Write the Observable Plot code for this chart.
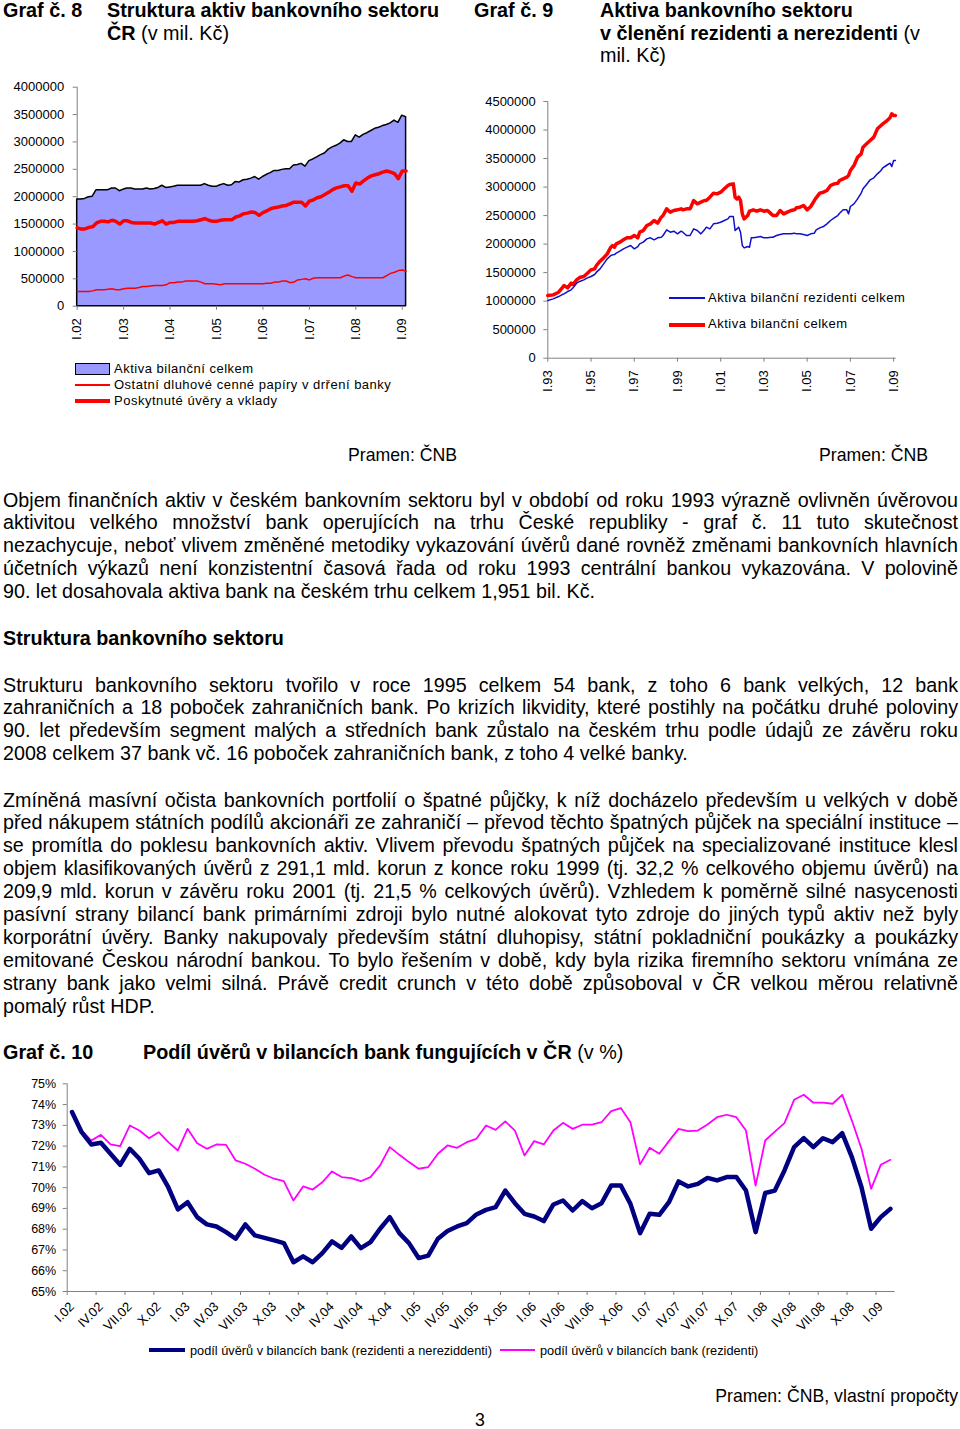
<!DOCTYPE html>
<html><head><meta charset="utf-8">
<script src="https://cdn.jsdelivr.net/npm/d3@7"></script>
<script src="https://cdn.jsdelivr.net/npm/@observablehq/plot@0.6"></script>
<style>
body{margin:0;background:#fff;}
#page{position:relative;width:960px;height:1429px;font-family:Arial,"Liberation Sans",sans-serif;color:#000;overflow:hidden;background:#fff}
.a{position:absolute;white-space:nowrap}
.b{font-weight:bold}
.h{font-size:19.8px;line-height:22.5px}
.p{position:absolute;left:3px;width:955px;font-size:19.7px;line-height:22.9px;margin:0}
.p .jl{text-align:justify;text-align-last:justify}
.p .ll{text-align:left}
.src{font-size:17.7px;line-height:20px}
.lg{font-size:13px;line-height:16px;letter-spacing:0.5px}
.lg10{font-size:12.75px;line-height:16px}
.sw{position:absolute}
.chart{position:absolute}
</style></head><body><div id="page">

<div class="a h b" style="left:3px;top:-1px">Graf č. 8</div>
<div class="a h" style="left:107px;top:-1px"><b>Struktura aktiv bankovního sektoru</b><br><b>ČR</b> (v mil. Kč)</div>
<div class="a h b" style="left:474px;top:-1px">Graf č. 9</div>
<div class="a h" style="left:600px;top:-1px"><b>Aktiva bankovního sektoru</b><br><b>v členění rezidenti a nerezidenti</b> (v<br>mil. Kč)</div>

<div id="c8" class="chart" style="left:0;top:75px"></div>
<div id="c9" class="chart" style="left:470px;top:85px"></div>

<div class="sw" style="left:75px;top:363px;width:33px;height:10px;background:#9999ff;border:1px solid #000"></div>
<div class="a lg" style="left:114px;top:361px">Aktiva bilanční celkem</div>
<div class="sw" style="left:75px;top:384px;width:35px;height:1.5px;background:#ff0000"></div>
<div class="a lg" style="left:114px;top:377px">Ostatní dluhové cenné papíry v drření banky</div>
<div class="sw" style="left:75px;top:399px;width:35px;height:4px;background:#ff0000"></div>
<div class="a lg" style="left:114px;top:393px">Poskytnuté úvěry a vklady</div>

<div class="sw" style="left:669px;top:297px;width:36px;height:1.5px;background:#1010cc"></div>
<div class="a lg" style="left:708px;top:289.5px">Aktiva bilanční rezidenti celkem</div>
<div class="sw" style="left:669px;top:322.5px;width:36px;height:4px;background:#ff0000"></div>
<div class="a lg" style="left:708px;top:316px">Aktiva bilanční celkem</div>

<div class="a src" style="left:348px;top:445px">Pramen: ČNB</div>
<div class="a src" style="left:819px;top:445px">Pramen: ČNB</div>

<div class="p" style="top:488.5px">
<div class="jl">Objem finančních aktiv v&nbsp;českém bankovním sektoru byl v&nbsp;období od roku 1993 výrazně ovlivněn úvěrovou</div>
<div class="jl">aktivitou velkého množství bank operujících na trhu České republiky - graf č. 11 tuto skutečnost</div>
<div class="jl">nezachycuje, neboť vlivem změněné metodiky vykazování úvěrů dané rovněž změnami bankovních hlavních</div>
<div class="jl">účetních výkazů není konzistentní časová řada od roku 1993 centrální bankou vykazována. V&nbsp;polovině</div>
<div class="ll">90. let dosahovala aktiva bank na českém trhu celkem 1,951 bil. Kč.</div>
</div>

<div class="a b" style="left:3px;top:627px;font-size:19.75px;line-height:22.9px">Struktura bankovního sektoru</div>

<div class="p" style="top:673.5px">
<div class="jl">Strukturu bankovního sektoru tvořilo v&nbsp;roce 1995 celkem 54 bank, z&nbsp;toho 6 bank velkých, 12 bank</div>
<div class="jl">zahraničních a 18 poboček zahraničních bank. Po krizích likvidity, které postihly na počátku druhé poloviny</div>
<div class="jl">90. let především segment malých a středních bank zůstalo na českém trhu podle údajů ze závěru roku</div>
<div class="ll">2008 celkem 37 bank vč. 16 poboček zahraničních bank, z toho 4 velké banky.</div>
</div>

<div class="p" style="top:788.5px">
<div class="jl">Zmíněná masívní očista bankovních portfolií o špatné půjčky, k&nbsp;níž docházelo především u velkých v&nbsp;době</div>
<div class="jl">před nákupem státních podílů akcionáři ze zahraničí – převod těchto špatných půjček na speciální instituce –</div>
<div class="jl">se promítla do poklesu bankovních aktiv. Vlivem převodu špatných půjček na specializované instituce klesl</div>
<div class="jl">objem klasifikovaných úvěrů z&nbsp;291,1 mld. korun z&nbsp;konce roku 1999 (tj. 32,2 % celkového objemu úvěrů) na</div>
<div class="jl">209,9 mld. korun v&nbsp;závěru roku 2001 (tj. 21,5 % celkových úvěrů). Vzhledem k&nbsp;poměrně silné nasycenosti</div>
<div class="jl">pasívní strany bilancí bank primárními zdroji bylo nutné alokovat tyto zdroje do jiných typů aktiv než byly</div>
<div class="jl">korporátní úvěry. Banky nakupovaly především státní dluhopisy, státní pokladniční poukázky a poukázky</div>
<div class="jl">emitované Českou národní bankou. To bylo řešením v&nbsp;době, kdy byla rizika firemního sektoru vnímána ze</div>
<div class="jl">strany bank jako velmi silná. Právě credit crunch v&nbsp;této době způsoboval v&nbsp;ČR velkou měrou relativně</div>
<div class="ll">pomalý růst HDP.</div>
</div>

<div class="a h b" style="left:3px;top:1041px">Graf č. 10</div>
<div class="a h" style="left:143px;top:1041px"><b>Podíl úvěrů v bilancích bank fungujících v ČR</b> (v %)</div>

<div id="c10" class="chart" style="left:0;top:1070px"></div>

<div class="sw" style="left:149px;top:1348px;width:36px;height:4px;background:#000080"></div>
<div class="a lg10" style="left:190px;top:1343px">podíl úvěrů v bilancích bank (rezidenti a nereziddenti)</div>
<div class="sw" style="left:500px;top:1349px;width:35px;height:2px;background:#ff00ff"></div>
<div class="a lg10" style="left:540px;top:1343px">podíl úvěrů v bilancích bank (rezidenti)</div>

<div class="a src" style="right:2px;top:1386px">Pramen: ČNB, vlastní propočty</div>
<div class="a src" style="left:475px;top:1410px">3</div>

</div>
<script>
// ---------- Graf 8: monthly, I.02 .. II.09 (mil. Kč) ----------
const yearLabels8 = ["I.02","I.03","I.04","I.05","I.06","I.07","I.08","I.09"];
const total8 = [1950000,1950000,1960000,1990000,2000000,2120000,2120000,2120000,2120000,2150000,
2150000,2100000,2130000,2150000,2150000,2130000,2130000,2130000,2150000,2130000,
2140000,2160000,2200000,2160000,2170000,2180000,2200000,2200000,2200000,2200000,
2200000,2200000,2200000,2230000,2200000,2180000,2180000,2210000,2230000,2200000,
2210000,2270000,2260000,2300000,2310000,2330000,2360000,2310000,2360000,2400000,
2430000,2470000,2470000,2490000,2500000,2500000,2570000,2580000,2600000,2550000,
2650000,2680000,2720000,2760000,2790000,2860000,2900000,2930000,2970000,3030000,
3000000,3000000,3120000,3080000,3130000,3160000,3200000,3240000,3260000,3290000,
3310000,3340000,3390000,3350000,3480000,3450000];
const loans8 = [1430000,1410000,1410000,1440000,1450000,1520000,1550000,1550000,1540000,1570000,
1550000,1500000,1560000,1560000,1530000,1520000,1520000,1520000,1520000,1520000,
1500000,1530000,1560000,1500000,1530000,1530000,1550000,1550000,1550000,1550000,
1550000,1560000,1580000,1600000,1570000,1550000,1550000,1570000,1580000,1580000,
1580000,1630000,1650000,1690000,1700000,1720000,1710000,1660000,1710000,1740000,
1780000,1800000,1810000,1830000,1840000,1870000,1900000,1900000,1900000,1830000,
1920000,1940000,1980000,2000000,2040000,2080000,2130000,2160000,2180000,2200000,
2200000,2100000,2250000,2230000,2290000,2340000,2380000,2400000,2420000,2450000,
2470000,2450000,2420000,2330000,2470000,2470000];
const securities8 = [270000,270000,270000,270000,280000,300000,300000,300000,310000,320000,
300000,300000,320000,330000,330000,330000,340000,360000,360000,370000,
380000,380000,380000,390000,430000,430000,440000,440000,460000,460000,
460000,460000,440000,410000,410000,410000,400000,390000,410000,410000,
410000,410000,410000,410000,410000,410000,410000,410000,410000,420000,
420000,440000,440000,460000,460000,430000,440000,480000,490000,500000,
480000,510000,520000,520000,520000,520000,520000,520000,520000,550000,
570000,540000,520000,520000,520000,520000,520000,520000,520000,520000,
560000,600000,620000,650000,660000,640000];

// ---------- Graf 9: months since I.93 (mil. Kč) ----------
const yearLabels9 = ["I.93","I.95","I.97","I.99","I.01","I.03","I.05","I.07","I.09"];
const months9 = [0,3,6,8,9,11,13,14,16,18,20,22,24,26,27,29,31,33,35,36,
37,38,40,42,44,46,48,50,51,53,55,57,59,61,63,64,66,68,70,72,
74,75,77,79,81,83,85,87,88,90,92,94,96,98,100,101,103,104,105,106,
107,108,109,110,111,112,113,114,116,118,120,122,124,125,127,129,131,133,135,137,
138,140,142,144,146,148,149,151,153,155,157,159,161,162,164,166,167,168,170,172,
174,175,177,179,181,183,185,186,188,190,191,192,193];
const total9 = [1099000,1110000,1157000,1233000,1274000,1233000,1315000,1292000,1373000,1420000,
1432000,1490000,1549000,1566000,1625000,1701000,1759000,1829000,1946000,1975000,
1946000,2004000,2034000,2075000,2110000,2110000,2151000,2110000,2209000,2238000,
2326000,2355000,2414000,2367000,2472000,2501000,2618000,2560000,2589000,2601000,
2618000,2601000,2618000,2618000,2764000,2706000,2735000,2764000,2764000,2823000,
2893000,2881000,2910000,2969000,3027000,3045000,3056000,2823000,2793000,2823000,
2764000,2530000,2443000,2472000,2501000,2577000,2589000,2601000,2577000,2601000,
2577000,2589000,2530000,2501000,2501000,2589000,2530000,2560000,2589000,2601000,
2636000,2647000,2677000,2601000,2659000,2764000,2811000,2893000,2910000,2940000,
3027000,3056000,3068000,3115000,3144000,3173000,3203000,3290000,3378000,3524000,
3582000,3699000,3758000,3816000,3875000,4021000,4079000,4108000,4155000,4214000,
4284000,4254000,4254000];
const residents9 = [1011000,1040000,1081000,1116000,1128000,1169000,1198000,1233000,1315000,1350000,
1373000,1408000,1432000,1467000,1508000,1566000,1654000,1742000,1800000,1812000,
1817000,1841000,1876000,1917000,1946000,1975000,1917000,1958000,2004000,2034000,
2092000,2110000,2075000,2110000,2121000,2151000,2250000,2209000,2227000,2180000,
2227000,2209000,2151000,2151000,2267000,2238000,2180000,2250000,2297000,2267000,
2355000,2367000,2384000,2414000,2443000,2484000,2484000,2238000,2267000,2297000,
2209000,1975000,1934000,1946000,1958000,1946000,2110000,2110000,2121000,2133000,
2110000,2110000,2121000,2121000,2151000,2168000,2180000,2180000,2180000,2192000,
2180000,2180000,2168000,2151000,2180000,2192000,2250000,2285000,2308000,2355000,
2414000,2460000,2501000,2542000,2601000,2601000,2530000,2659000,2706000,2793000,
2893000,2969000,3045000,3127000,3162000,3232000,3290000,3337000,3378000,3419000,
3360000,3465000,3465000];

// ---------- Graf 10: monthly I.02 .. II.09 (%) ----------
const quarterLabels10 = ["I.02","IV.02","VII.02","X.02","I.03","IV.03","VII.03","X.03",
"I.04","IV.04","VII.04","X.04","I.05","IV.05","VII.05","X.05","I.06","IV.06","VII.06","X.06",
"I.07","IV.07","VII.07","X.07","I.08","IV.08","VII.08","X.08","I.09"];
const shareAll10 = [73.64,72.67,72.08,72.16,71.63,71.10,71.87,71.39,70.70,70.83,
70.02,68.95,69.30,68.58,68.23,68.13,67.86,67.54,68.23,67.70,
67.58,67.46,67.33,66.41,66.69,66.41,66.85,67.41,67.10,67.65,
67.09,67.38,68.02,68.58,67.81,67.33,66.61,66.73,67.54,67.91,
68.13,68.29,68.71,68.93,69.06,69.86,69.25,68.74,68.61,68.39,
69.19,69.38,68.90,69.35,69.01,69.25,70.10,70.10,69.22,67.81,
68.74,68.69,69.30,70.30,70.06,70.18,70.47,70.35,70.51,70.51,
69.86,67.86,69.74,69.86,70.83,71.95,72.38,71.95,72.38,72.19,
72.62,71.47,70.02,68.02,68.58,68.98];
const shareRes10 = [73.59,72.75,72.27,72.54,72.08,72.00,72.99,72.75,72.38,72.67,
72.19,71.79,72.83,72.14,71.87,72.08,72.06,71.31,71.15,70.91,
70.62,70.43,70.31,69.38,70.06,69.91,70.26,70.78,70.51,70.46,
70.31,70.51,71.07,71.95,71.58,71.23,70.91,70.99,71.63,72.03,
71.92,72.19,72.35,72.99,72.78,73.19,72.75,71.55,72.24,72.08,
72.75,73.12,72.83,73.03,73.03,73.15,73.68,73.83,73.15,71.12,
71.92,71.63,72.24,72.83,72.72,72.75,73.04,73.39,73.51,73.39,
72.75,70.10,72.27,72.70,73.11,74.23,74.47,74.09,74.09,74.04,
74.47,73.23,71.87,69.94,71.10,71.34];

const FONT = 'Arial, "Liberation Sans", sans-serif';
const AX = "#808080";
const baseStyle = (fs) => ({fontFamily: FONT, fontSize: fs, color: "#000", background: "transparent", overflow: "visible"});

// Chart 8
const d8 = d3.range(total8.length).map(i => ({i, T: total8[i], L: loans8[i], S: securities8[i]}));
const c8 = Plot.plot({
  width: 420, height: 280, marginLeft: 76.7, marginRight: 14.4, marginTop: 11.7, marginBottom: 49.3,
  x: {domain: [0, 85]}, y: {domain: [0, 4000000]},
  style: baseStyle("13px"),
  marks: [
    Plot.ruleX([0], {stroke: AX}),
    Plot.areaY(d8, {x: "i", y: "T", fill: "#9999ff", stroke: "#000", strokeWidth: 1.5}),
    Plot.lineY(d8, {x: "i", y: "S", stroke: "#ff0000", strokeWidth: 1.5}),
    Plot.lineY(d8, {x: "i", y: "L", stroke: "#ff0000", strokeWidth: 3.5}),
    Plot.axisY({ticks: d3.range(0, 4000001, 500000), tickFormat: d3.format("d"), tickSize: 4, tickPadding: 9, stroke: AX, fill: "#000", label: null}),
    Plot.axisX({ticks: d3.range(0, 85, 12), tickFormat: i => yearLabels8[i / 12], tickRotate: -90, tickSize: 4, tickPadding: 8, stroke: AX, fill: "#000", label: null})
  ]
});
document.getElementById("c8").appendChild(c8);

// Chart 9
const d9 = months9.map((m, k) => ({t: 1993 + m / 12, R: residents9[k], C: total9[k]}));
const c9 = Plot.plot({
  width: 490, height: 330, marginLeft: 77.3, marginRight: 64.3, marginTop: 16, marginBottom: 57.3,
  x: {domain: [1993, 2009.12]}, y: {domain: [0, 4500000]},
  style: baseStyle("13px"),
  marks: [
    Plot.ruleX([1993], {stroke: AX}),
    Plot.ruleY([0], {stroke: AX}),
    Plot.lineY(d9, {x: "t", y: "C", stroke: "#ff0000", strokeWidth: 3.5}),
    Plot.lineY(d9, {x: "t", y: "R", stroke: "#1010cc", strokeWidth: 1.5}),
    Plot.axisY({ticks: d3.range(0, 4500001, 500000), tickFormat: d3.format("d"), tickSize: 4, tickPadding: 8, stroke: AX, fill: "#000", label: null}),
    Plot.axisX({ticks: d3.range(1993, 2010, 2), tickFormat: d => yearLabels9[(d - 1993) / 2], tickRotate: -90, tickSize: 4, tickPadding: 8, stroke: AX, fill: "#000", label: null})
  ]
});
document.getElementById("c9").appendChild(c9);

// Chart 10
const d10 = d3.range(shareAll10.length).map(i => ({i, a: shareAll10[i], r: shareRes10[i]}));
const c10 = Plot.plot({
  width: 960, height: 270, marginLeft: 66.7, marginRight: 65.3, marginTop: 13.3, marginBottom: 49,
  x: {domain: [-0.5, 85.5]}, y: {domain: [65, 75]},
  style: baseStyle("12.5px"),
  marks: [
    Plot.ruleX([-0.5], {stroke: AX}),
    Plot.ruleY([65], {stroke: AX}),
    Plot.lineY(d10, {x: "i", y: "r", stroke: "#ff00ff", strokeWidth: 1.8}),
    Plot.lineY(d10, {x: "i", y: "a", stroke: "#000080", strokeWidth: 4.5}),
    Plot.axisY({ticks: d3.range(65, 76), tickFormat: d => d + "%", tickSize: 4, tickPadding: 7, stroke: AX, fill: "#000", label: null}),
    Plot.axisX({ticks: d3.range(0, 86, 3).map(i => i - 0.5), tickFormat: () => "", tickSize: 4, stroke: AX, label: null}),
    Plot.axisX({ticks: d3.range(0, 86, 3), tickFormat: i => quarterLabels10[i / 3], tickSize: 0, tickPadding: 13, tickRotate: -45, fill: "#000", fontSize: 13, label: null})
  ]
});
document.getElementById("c10").appendChild(c10);
</script>
</body></html>
